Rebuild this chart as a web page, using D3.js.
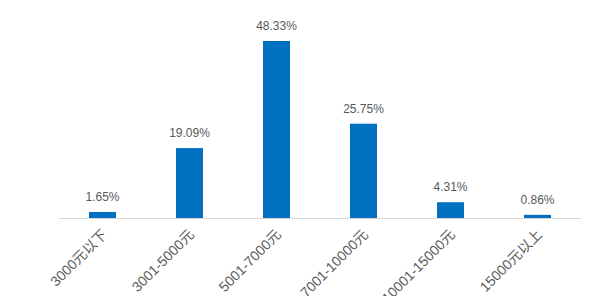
<!DOCTYPE html>
<html>
<head>
<meta charset="utf-8">
<script src="https://cdn.jsdelivr.net/npm/d3@7"></script>
<style>
  body { margin: 0; background: #fff; }
  text { font-family: "Liberation Sans", "Noto Sans CJK SC", sans-serif; }
</style>
</head>
<body>
<div id="vis"><svg></svg></div>
<script>
var categories = ['3000元以下', '3001-5000元', '5001-7000元', '7001-10000元', '10001-15000元', '15000元以上'];
var values = [1.65, 19.09, 48.33, 25.75, 4.31, 0.86];

var width = 600, height = 296;
var baseY = 218;

var svg = d3.select("#vis").select("svg")
  .attr("width", width)
  .attr("height", height);

var x = d3.scaleBand()
  .domain(categories)
  .range([59, 581])
  .paddingInner(0.69)
  .paddingOuter(0.345);

var y = d3.scaleLinear()
  .domain([0, 48.33])
  .range([baseY, 41]);

// baseline
svg.append('line')
  .attr('x1', 59).attr('x2', 581)
  .attr('y1', baseY + 0.5).attr('y2', baseY + 0.5)
  .style('stroke', '#d9d9d9')
  .style('stroke-width', 1);

svg.selectAll('rect.bar')
  .data(values)
  .enter()
  .append('rect')
  .attr('class', 'bar')
  .attr('x', (d, i) => x(categories[i]))
  .attr('width', x.bandwidth())
  .attr('y', d => y(d))
  .attr('height', d => baseY - y(d))
  .style('fill', '#0070c0');

svg.selectAll('text.valueLabel')
  .data(values)
  .enter()
  .append('text')
  .attr('class', 'valueLabel')
  .attr('x', (d, i) => x(categories[i]) + x.bandwidth() / 2)
  .attr('y', d => y(d) - 11)
  .style('text-anchor', 'middle')
  .style('font-size', '12px')
  .style('fill', '#595959')
  .text(d => d3.format('.2f')(d) + '%');

svg.selectAll('text.catLabel')
  .data(categories)
  .enter()
  .append('text')
  .attr('class', 'catLabel')
  .attr('transform', d => `translate(${x(d) + x.bandwidth() / 2 + 2},${baseY + 14}) rotate(-45)`)
  .style('text-anchor', 'end')
  .attr('dy', '0.35em')
  .style('font-size', '14px')
  .style('fill', '#595959')
  .text(d => d);
</script>
</body>
</html>
